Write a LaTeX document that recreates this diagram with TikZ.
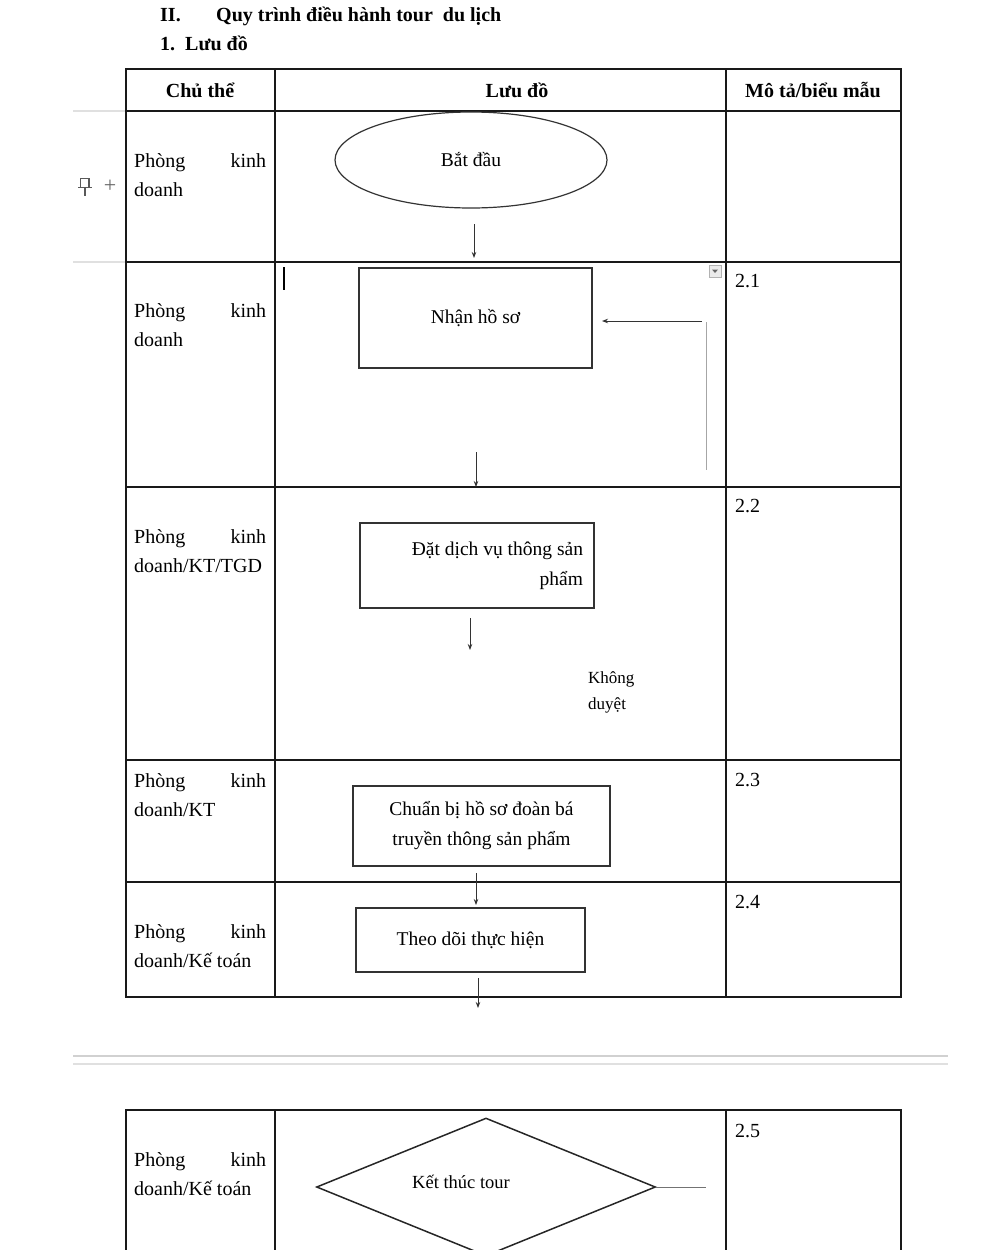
\documentclass[tikz,border=0pt]{standalone}
\usepackage{fontspec}
\setmainfont{Liberation Serif}
\usetikzlibrary{arrows.meta,positioning,shapes.geometric}
\newcommand{\whofnt}{\fontsize{20}{29}\selectfont\hyphenpenalty=10000\tolerance=10000 }
\newcommand{\flowfnt}{\fontsize{19.5}{30}\selectfont}
\newcommand{\titlefnt}{\fontsize{20}{29}\selectfont\bfseries}
\tikzset{
  rule/.style={line width=1.3pt, draw=black!90},
  uiline/.style={line width=1.2pt, draw=black!12},
  flowbox/.style={draw=black!80, line width=1.5pt, inner sep=0pt, font=\flowfnt, align=center},
  arr/.style={line width=0.9pt, draw=black!80, -{Stealth[length=6pt,width=4.5pt]}},
  who/.style={anchor=north west, inner sep=0pt, text width=132pt, align=justify, font=\whofnt},
  num/.style={anchor=base west, inner sep=0pt, font=\whofnt},
  head/.style={anchor=base, inner sep=0pt, font=\titlefnt},
  title/.style={anchor=base west, inner sep=0pt, font=\titlefnt}
}

\begin{document}
\begin{tikzpicture}[x=1pt,y=-1pt]
  \useasboundingbox (0,0) rectangle (1000,1250);
  \clip (0,0) rectangle (1000,1250);
  % heading
  \node[title] (secnum) at (160,21) {II.};
  \node[title] (sectitle) at (216,21) {Quy trình điều hành tour\ \ du lịch};
  \node[title] (subtitle) at (160,50) {1.\ \ Lưu đồ};

  % editor marks
  \draw[uiline] (73,111) -- (126,111);
  \draw[uiline] (73,262) -- (126,262);
  \node[inner sep=0pt, text=black!60, font=\fontsize{22}{22}\selectfont] (plus) at (110,186) {+};
  \draw[black!65, line width=1.4pt] (80.5,187) -- (80.5,178.5) -- (89,178.5) -- (89,187);
  \draw[black!65, line width=1.4pt] (78,187.5) -- (91.5,187.5);
  \draw[black!65, line width=1.4pt] (84.8,187.5) -- (84.8,195.5);

  % table 1
  \draw[rule] (126,69) rectangle (901,997);
  \foreach \y in {111,262,487,760,882}
    \draw[rule] (126,\y) -- (901,\y);
  \foreach \x in {275,726}
    \draw[rule] (\x,69) -- (\x,997);

  \node[head] (h1) at (200,97) {Chủ thể};
  \node[head] (h2) at (517,97) {Lưu đồ};
  \node[head] (h3) at (813,97) {Mô tả/biểu mẫu};

  \node[who] (who1) at (134,153) {Phòng kinh doanh};
  \node[who] (who2) at (134,303) {Phòng kinh doanh};
  \node[who] (who3) at (134,529) {Phòng kinh doanh/KT/TGD};
  \node[who] (who4) at (134,773) {Phòng kinh doanh/KT};
  \node[who] (who5) at (134,924) {Phòng kinh doanh/Kế toán};

  \node[num] (n1) at (735,287) {2.1};
  \node[num] (n2) at (735,512) {2.2};
  \node[num] (n3) at (735,786) {2.3};
  \node[num] (n4) at (735,908) {2.4};

  % flow
  \node[flowbox, ellipse, line width=1.2pt, minimum width=272pt, minimum height=96pt] (start) at (471,160) {Bắt đầu};
  \node[flowbox, minimum width=233pt, minimum height=100pt] (recv) at (475.5,318) {Nhận hồ sơ};
  \node[flowbox, minimum width=234pt, minimum height=85pt, text width=212pt, align=flush right] (book) at (477,565.5) {Đặt dịch vụ thông sản\\phẩm};
  \node[inner sep=0pt, anchor=north west, align=left, font=\fontsize{17}{26}\selectfont] (reject) at (588,671) {Không\\duyệt};
  \node[flowbox, minimum width=257pt, minimum height=80pt] (prep) at (481.5,826) {Chuẩn bị hồ sơ đoàn bá\\truyền thông sản phẩm};
  \node[flowbox, minimum width=229pt, minimum height=64pt] (track) at (470.5,940) {Theo dõi thực hiện};

  \coordinate (a1s) at (474,224);  \coordinate (a1e) at (474,258);
  \coordinate (a2s) at (476,452);  \coordinate (a2e) at (476,487);
  \coordinate (a3s) at (470,618);  \coordinate (a3e) at (470,650);
  \coordinate (a4s) at (476,873);  \coordinate (a4e) at (476,905);
  \coordinate (a5s) at (478,978);  \coordinate (a5e) at (478,1008);
  \coordinate (fbtop) at (706,322); \coordinate (fbbot) at (706,470);
  \coordinate (fbs) at (702,321);  \coordinate (fbe) at (602,321);

  \draw[arr] (a1s) -- (a1e);
  \draw[arr] (a2s) -- (a2e);
  \draw[arr] (a3s) -- (a3e);
  \draw[arr] (a4s) -- (a4e);
  \draw[arr] (a5s) -- (a5e);
  \draw[line width=1pt, draw=black!35] (fbtop) -- (fbbot);
  \draw[arr] (fbs) -- (fbe);

  % cursor and dropdown
  \draw[line width=1.5pt] (284,267) -- (284,290);
  \draw[draw=black!30, fill=black!8] (709,265) rectangle (721,277);
  \fill[black!60] (712,269.5) -- (718,269.5) -- (715,273) -- cycle;

  % page break
  \draw[line width=1.5pt, draw=black!18] (73,1056) -- (948,1056);
  \draw[line width=2pt, draw=black!12] (73,1064) -- (948,1064);

  % table 2
  \draw[rule] (126,1262) -- (126,1110) -- (901,1110) -- (901,1262);
  \foreach \x in {275,726}
    \draw[rule] (\x,1110) -- (\x,1262);
  \node[who] (who6) at (134,1152) {Phòng kinh doanh/Kế toán};
  \node[num] (n5) at (735,1137) {2.5};
  \node[draw=black!85, line width=1.5pt, diamond, minimum width=339pt, minimum height=138pt, inner sep=0pt] (finish) at (486,1187) {};
  \node[inner sep=0pt, font=\fontsize{18.5}{22}\selectfont] (finishtxt) at (461,1182) {Kết thúc tour};
  \coordinate (exitend) at (706,1187);
  \draw[line width=1pt, draw=black!55] (finish.east) -- (exitend);
\end{tikzpicture}
\end{document}
